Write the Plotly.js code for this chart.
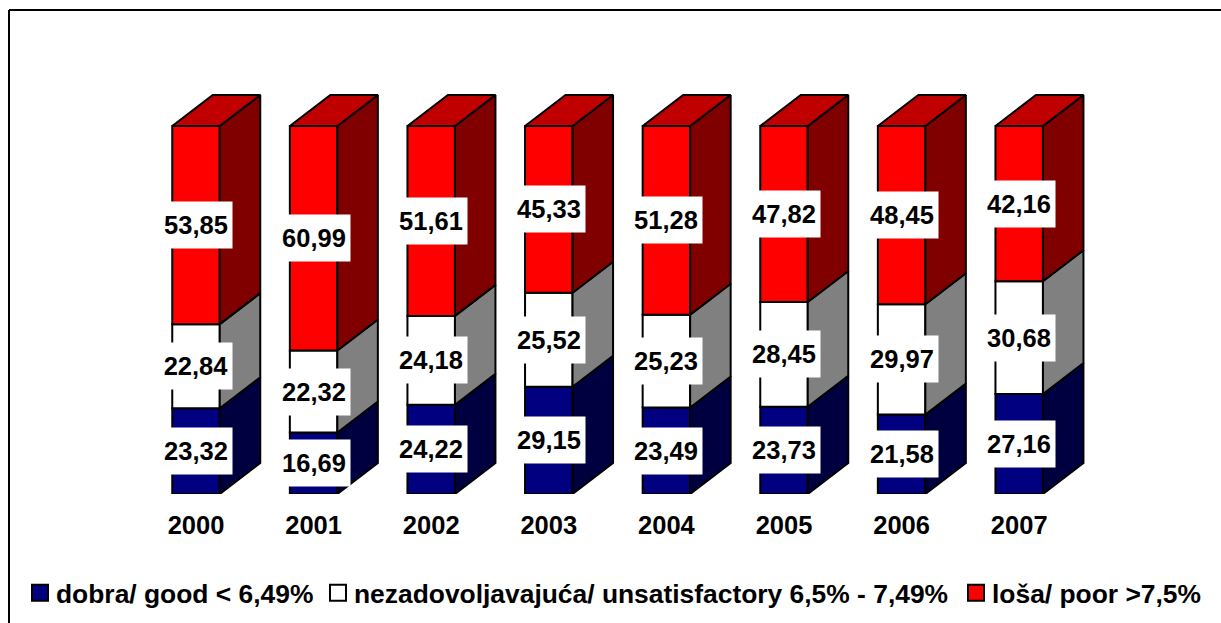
<!DOCTYPE html>
<html>
<head>
<meta charset="utf-8">
<script src="https://cdn.plot.ly/plotly-3.0.1.min.js"></script>
<style>html,body{margin:0;padding:0;background:#fff}#chart{width:1221px;height:623px}</style>
</head>
<body>
<div id="chart"></div>
<script>
const years = ["2000","2001","2002","2003","2004","2005","2006","2007"];
const good = [23.32,16.69,24.22,29.15,23.49,23.73,21.58,27.16];
const unsatisfactory = [22.84,22.32,24.18,25.52,25.23,28.45,29.97,30.68];
const poor = [53.85,60.99,51.61,45.33,51.28,47.82,48.45,42.16];
const seriesNames = ["dobra/ good < 6,49%","nezadovoljavajuća/ unsatisfactory 6,5% - 7,49%","loša/ poor >7,5%"];

const W=1221,H=623,baseY=494,pxPerVal=3.68,pxPerCat=117.6,firstX=196;
const barW=47.5/pxPerCat, dx=40.5/pxPerCat, dy=31/pxPerVal;
const FONT='"Liberation Sans", Arial, sans-serif';
const xs=years.map((_,i)=>i);
const series=[
  {vals:good,front:"#000080",side:"#000040"},
  {vals:unsatisfactory,front:"#FFFFFF",side:"#808080"},
  {vals:poor,front:"#FF0000",side:"#800000"}
];
let traces=[],annotations=[];
let base=years.map(()=>0);
series.forEach((s,k)=>{
  traces.push({type:"bar",x:xs,y:s.vals,base:base.slice(),width:barW,showlegend:false,hoverinfo:"skip",
    marker:{color:s.front,line:{color:"#000",width:2}}});
  const px=[],py=[];
  s.vals.forEach((v,i)=>{
    const r=i+barW/2,b=base[i],t=b+v;
    px.push(r,r,r+dx,r+dx,r,null);
    py.push(b,t,t+dy,b+dy,b,null);
    annotations.push({xref:"x",yref:"y",x:i,y:b+v/2,text:v.toFixed(2).replace(".",","),showarrow:false,
      width:72,height:46,bgcolor:"#fff",borderpad:0,font:{family:FONT,size:25.5,color:"#000",weight:700}});
  });
  traces.push({type:"scatter",mode:"lines",x:px,y:py,fill:"toself",fillcolor:s.side,line:{color:"#000",width:2},
    showlegend:false,hoverinfo:"skip"});
  base=base.map((b,i)=>b+s.vals[i]);
});
// top faces
const tx=[],ty=[];
base.forEach((t,i)=>{
  const l=i-barW/2,r=i+barW/2;
  tx.push(l,r,r+dx,l+dx,l,null);
  ty.push(t,t,t+dy,t+dy,t,null);
});
traces.push({type:"scatter",mode:"lines",x:tx,y:ty,fill:"toself",fillcolor:"#C00000",line:{color:"#000",width:2},showlegend:false,hoverinfo:"skip"});
// legend entries
const legendX=[16,314,952];
const legendIds=["legend","legend2","legend3"];
series.forEach((s,k)=>{
  traces.push({type:"scatter",mode:"markers",x:[null],y:[null],name:seriesNames[k],legend:legendIds[k],showlegend:true,
    marker:{symbol:"square",size:16,color:s.front,line:{color:"#000",width:2}}});
});
const layout={
  width:W,height:H,margin:{l:0,r:0,t:0,b:H-baseY,pad:0},
  paper_bgcolor:"#fff",plot_bgcolor:"rgba(0,0,0,0)",
  barmode:"overlay",
  xaxis:{range:[-firstX/pxPerCat,(W-firstX)/pxPerCat],tickvals:xs,ticktext:years,ticks:"",ticklabelstandoff:13,
    showgrid:false,zeroline:false,showline:false,fixedrange:true,tickfont:{family:FONT,size:25.5,color:"#000",weight:700}},
  yaxis:{range:[0,baseY/pxPerVal],visible:false,showgrid:false,zeroline:false,fixedrange:true},
  annotations:annotations,
  shapes:[
    {type:"line",xref:"paper",yref:"paper",x0:9/W,x1:1,y0:1-10/baseY,y1:1-10/baseY,line:{color:"#000",width:2}},
    {type:"line",xref:"paper",yref:"paper",x0:9/W,x1:9/W,y0:1-10/baseY,y1:-(H-baseY)/baseY,line:{color:"#000",width:2}}
  ]
};
legendIds.forEach((id,k)=>{
  layout[id]={orientation:"h",x:legendX[k]/W,xanchor:"left",y:-(593-baseY)/baseY,yanchor:"middle",
    bgcolor:"rgba(0,0,0,0)",borderwidth:0,font:{family:FONT,size:26.4,color:"#000",weight:700},itemclick:false,itemdoubleclick:false};
});
Plotly.newPlot("chart",traces,layout,{displayModeBar:false,responsive:false}).then(gd=>{
  gd.querySelectorAll("g.legendsymbols").forEach(g=>g.setAttribute("transform","translate(4,0)"));
});
</script>
</body>
</html>
